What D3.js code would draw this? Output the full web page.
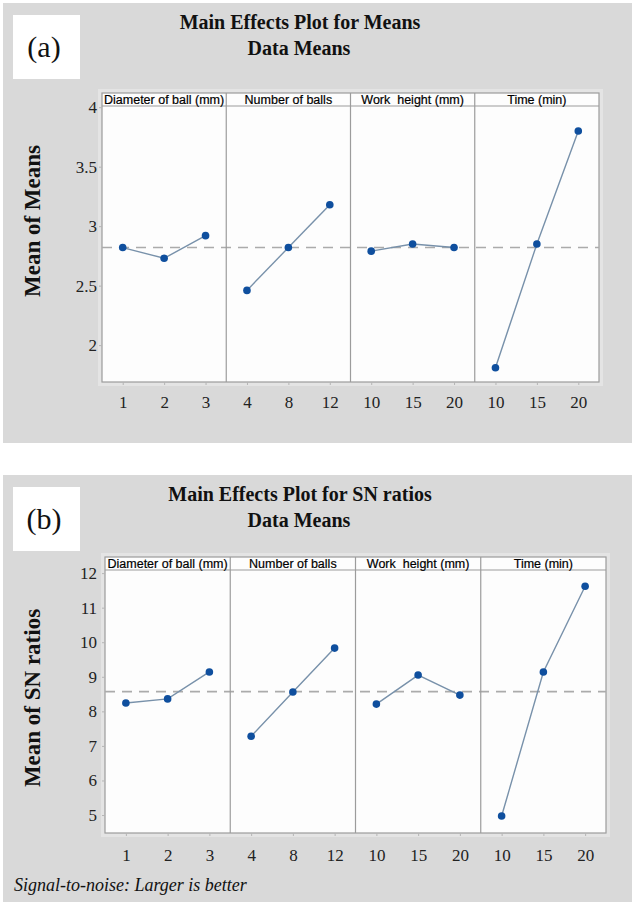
<!DOCTYPE html>
<html>
<head>
<meta charset="utf-8">
<script src="https://cdn.jsdelivr.net/npm/d3@7"></script>
<style>
  body { margin: 0; background: #fff; }
  svg { display: block; }
</style>
</head>
<body>
<div id="viz"></div>
<script>
// ===== data =====
const factors = ['Diameter of ball (mm)', 'Number of balls', 'Work  height (mm)', 'Time (min)'];
const levels = [['1', '2', '3'], ['4', '8', '12'], ['10', '15', '20'], ['10', '15', '20']];

// (a) mean of means per factor level
const meansA = [
    [2.82, 2.73, 2.92],
    [2.46, 2.82, 3.18],
    [2.79, 2.85, 2.82],
    [1.81, 2.85, 3.80]
];
const grandMeanA = 2.82;
const yTicksA = [2, 2.5, 3, 3.5, 4];

// (b) mean of SN ratios per factor level
const snB = [
    [8.24, 8.36, 9.14],
    [7.28, 8.56, 9.83],
    [8.21, 9.05, 8.47],
    [4.97, 9.14, 11.62]
];
const grandMeanB = 8.57;
const yTicksB = [5, 6, 7, 8, 9, 10, 11, 12];

// ===== canvas =====
const width = 635;
const height = 904;
const serif = '"Liberation Serif", "Times New Roman", serif';
const sans = '"Liberation Sans", Arial, sans-serif';

const svg = d3.select('#viz')
    .append('svg')
        .attr('width', width)
        .attr('height', height);

function drawPanel(p) {
    const g = svg.append('g');

    // grey figure background
    g.append('rect')
        .attr('x', 3).attr('y', p.top)
        .attr('width', 629).attr('height', p.bottom - p.top)
        .attr('fill', '#d9d9d9');

    // tag box (a) / (b)
    g.append('rect')
        .attr('x', 13).attr('y', p.top + 12)
        .attr('width', 67).attr('height', 64)
        .attr('fill', '#fff');
    g.append('text')
        .attr('x', 44).attr('y', p.top + 54)
        .attr('text-anchor', 'middle')
        .attr('font-family', serif).attr('font-size', 30)
        .attr('fill', '#111')
        .text(p.tag);

    // titles
    g.append('text')
        .attr('x', 300).attr('y', p.top + 26)
        .attr('text-anchor', 'middle')
        .attr('font-family', serif).attr('font-size', 20).attr('font-weight', 'bold')
        .attr('fill', '#111')
        .text(p.title);
    g.append('text')
        .attr('x', 299).attr('y', p.top + 52)
        .attr('text-anchor', 'middle')
        .attr('font-family', serif).attr('font-size', 20).attr('font-weight', 'bold')
        .attr('fill', '#111')
        .text('Data Means');

    // scales
    const xBand = d3.scaleBand()
        .domain(factors)
        .range([p.x0, p.x1]);
    const yScale = d3.scaleLinear()
        .domain(p.domain)
        .range([p.plotBottom, p.plotTop]);

    // lighter surround + white plot area
    g.append('rect')
        .attr('x', p.x0 - 4).attr('y', p.headTop - 4)
        .attr('width', p.x1 - p.x0 + 8).attr('height', p.plotBottom - p.headTop + 8)
        .attr('fill', '#e4e4e4');
    g.append('rect')
        .attr('x', p.x0).attr('y', p.headTop)
        .attr('width', p.x1 - p.x0).attr('height', p.plotBottom - p.headTop)
        .attr('fill', '#fdfdfd')
        .attr('stroke', '#9c9c9c').attr('stroke-width', 1.2);
    g.append('line')
        .attr('x1', p.x0).attr('x2', p.x1)
        .attr('y1', p.plotTop).attr('y2', p.plotTop)
        .attr('stroke', '#9c9c9c').attr('stroke-width', 1.2);

    // y axis
    const yAxis = d3.axisLeft(yScale)
        .tickValues(p.ticks)
        .tickSize(3)
        .tickPadding(p.yPad)
        .tickFormat(d => d);
    const ya = g.append('g')
        .attr('transform', `translate(${p.x0}, 0)`)
        .call(yAxis);
    ya.select('.domain').remove();
    ya.selectAll('line').attr('stroke', '#b5b5b5');
    ya.selectAll('text')
        .attr('font-family', serif).attr('font-size', 17).attr('fill', '#222');

    g.append('text')
        .attr('transform', `translate(32, ${p.yTitleY}) rotate(-90)`)
        .attr('text-anchor', 'middle')
        .attr('dominant-baseline', 'central')
        .attr('font-family', serif).attr('font-size', 23).attr('font-weight', 'bold')
        .attr('fill', '#111')
        .text(p.yTitle);

    // grand mean reference line
    g.append('line')
        .attr('x1', p.x0).attr('x2', p.x1)
        .attr('y1', yScale(p.mean)).attr('y2', yScale(p.mean))
        .attr('stroke', '#ababab').attr('stroke-width', 1.6)
        .attr('stroke-dasharray', '10,7');

    factors.forEach((f, i) => {
        const x0 = xBand(f);
        const xPoint = d3.scalePoint()
            .domain(levels[i])
            .range([x0, x0 + xBand.bandwidth()])
            .padding(0.5);

        // column separator
        if (i > 0) {
            g.append('line')
                .attr('x1', x0).attr('x2', x0)
                .attr('y1', p.headTop).attr('y2', p.plotBottom)
                .attr('stroke', '#9c9c9c').attr('stroke-width', 1.2);
        }

        // header text
        g.append('text')
            .attr('x', x0 + xBand.bandwidth() / 2)
            .attr('y', (p.headTop + p.plotTop) / 2 + 0.5)
            .attr('text-anchor', 'middle')
            .attr('dominant-baseline', 'central')
            .attr('font-family', sans).attr('font-size', 12.5)
            .attr('fill', '#000')
            .attr('stroke', '#000').attr('stroke-width', 0.2)
            .style('white-space', 'pre')
            .text(f);

        // x axis for the column
        const xAxis = d3.axisBottom(xPoint)
            .tickSize(3)
            .tickPadding(p.xPad);
        const xa = g.append('g')
            .attr('transform', `translate(0, ${p.plotBottom})`)
            .call(xAxis);
        xa.select('.domain').remove();
        xa.selectAll('line').attr('stroke', '#b5b5b5');
        xa.selectAll('text')
            .attr('font-family', serif).attr('font-size', 17).attr('fill', '#222');

        // data line + points
        const pts = levels[i].map((lv, j) => ({ lv, v: p.values[i][j] }));
        const line = d3.line()
            .x(d => xPoint(d.lv))
            .y(d => yScale(d.v));
        g.append('path')
            .datum(pts)
            .attr('d', line)
            .attr('fill', 'none')
            .attr('stroke', '#7891aa').attr('stroke-width', 1.4);
        g.selectAll(null)
            .data(pts)
            .join('circle')
                .attr('cx', d => xPoint(d.lv))
                .attr('cy', d => yScale(d.v))
                .attr('r', 3.8)
                .attr('fill', '#0f4f9e');
    });
}

drawPanel({
    top: 3, bottom: 443, tag: '(a)',
    title: 'Main Effects Plot for Means', yTitle: 'Mean of Means', yTitleY: 221,
    values: meansA, mean: grandMeanA, ticks: yTicksA, domain: [1.69, 4.01],
    x0: 102, x1: 599, headTop: 93, plotTop: 106, plotBottom: 382,
    yPad: 2, xPad: 10.5
});

drawPanel({
    top: 475, bottom: 902, tag: '(b)',
    title: 'Main Effects Plot for SN ratios', yTitle: 'Mean of SN ratios', yTitleY: 698,
    values: snB, mean: grandMeanB, ticks: yTicksB, domain: [4.48, 12.09],
    x0: 105, x1: 606, headTop: 557, plotTop: 570, plotBottom: 833,
    yPad: 5, xPad: 13
});

svg.append('text')
    .attr('x', 14).attr('y', 891)
    .attr('font-family', serif).attr('font-size', 18).attr('font-style', 'italic')
    .attr('fill', '#111')
    .text('Signal-to-noise: Larger is better');
</script>
</body>
</html>
